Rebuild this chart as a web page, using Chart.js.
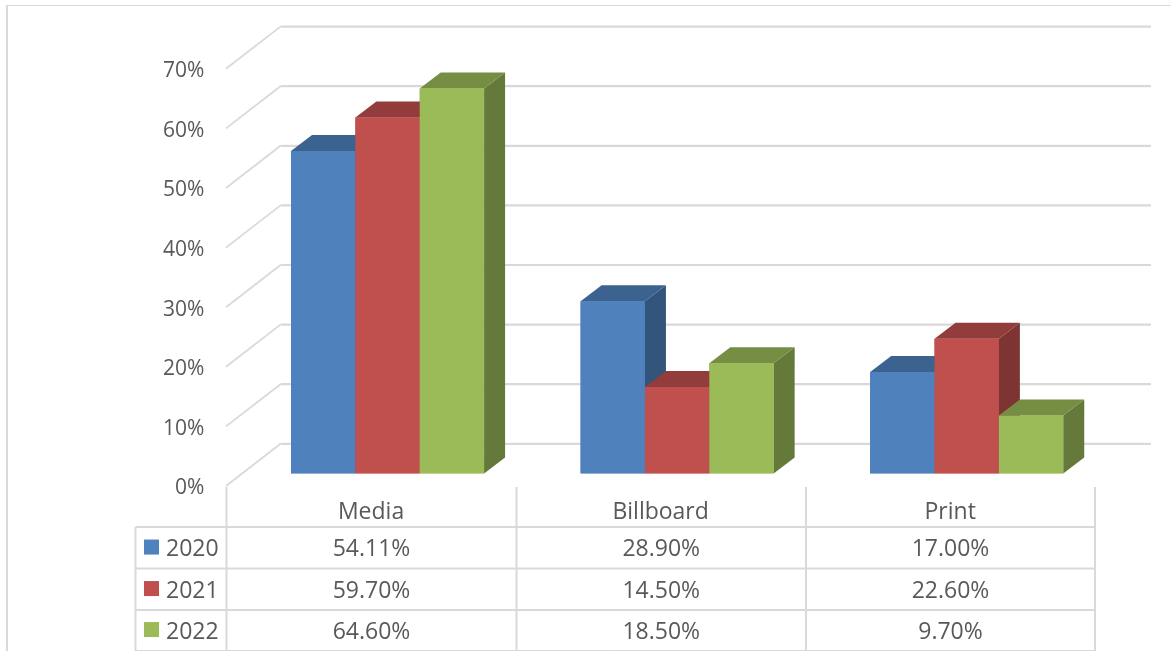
<!DOCTYPE html>
<html>
<head>
<meta charset="utf-8">
<style>
  html, body { margin: 0; padding: 0; background: #fff; overflow: hidden; }
  canvas { display: block; }
</style>
<script src="https://cdn.jsdelivr.net/npm/chart.js@4"></script>
</head>
<body>
<canvas id="chart" width="1171" height="651"></canvas>
<script>
const categories = ['Media', 'Billboard', 'Print'];
const seriesNames = ['2020', '2021', '2022'];
const values2020 = [54.11, 28.90, 17.00];
const values2021 = [59.70, 14.50, 22.60];
const values2022 = [64.60, 18.50, 9.70];
const tableValues2020 = ['54.11%', '28.90%', '17.00%'];
const tableValues2021 = ['59.70%', '14.50%', '22.60%'];
const tableValues2022 = ['64.60%', '18.50%', '9.70%'];
const frontColors = ['#4F81BD', '#C0504D', '#9BBB59'];
const topColors = ['#3C6290', '#923D3B', '#768E44'];
const sideColors = ['#33547B', '#7D3432', '#657A3A'];

const FONT = '"Open Sans", sans-serif';
const TEXT = '#595959';
const LINE = '#D9D9D9';

// Projection of the box depth and of the wall behind the columns
const BAR_DEPTH = { x: 21, y: 16 };
const WALL = { left: 226, back: 280.5, right: 1151, frontDrop: 12.6, backRise: 29.6 };
// Data table rules
const TABLE = { left: 135.5, colEdges: [226.5, 516.5, 806, 1095], rows: [527, 568.5, 610, 650.5], top: 487 };

function line(ctx, x1, y1, x2, y2, w) {
  ctx.lineWidth = w;
  ctx.beginPath();
  ctx.moveTo(x1, y1);
  ctx.lineTo(x2, y2);
  ctx.stroke();
}

function poly(ctx, pts, color) {
  ctx.fillStyle = color;
  ctx.beginPath();
  pts.forEach((p, i) => (i ? ctx.lineTo(p[0], p[1]) : ctx.moveTo(p[0], p[1])));
  ctx.closePath();
  ctx.fill();
}

const wallAndTable = {
  id: 'wallAndTable',
  // Back wall, side wall, data table and frame go underneath the columns
  beforeDatasetsDraw(chart) {
    const { ctx, scales } = chart;
    ctx.save();
    ctx.strokeStyle = LINE;
    ctx.lineCap = 'butt';

    // Frame
    line(ctx, 6, 5.5, 1171, 5.5, 1.2);
    line(ctx, 7, 5, 7, 651, 2);

    // Walls
    scales.y.ticks.forEach(t => {
      const p = scales.y.getPixelForValue(t.value);
      line(ctx, WALL.back, p - WALL.backRise, WALL.right, p - WALL.backRise, 2.2);
      line(ctx, WALL.left, p + WALL.frontDrop, WALL.back, p - WALL.backRise, 1.8);
    });

    // Table rules
    TABLE.colEdges.forEach(x => line(ctx, x, TABLE.top, x, 651, 2));
    line(ctx, TABLE.left, TABLE.rows[0], TABLE.left, 651, 2);
    TABLE.rows.forEach((y, i) => line(ctx, TABLE.left, y, TABLE.colEdges[3] + 1, y, i === 3 ? 1 : 2));

    // Table content
    ctx.textBaseline = 'middle';
    ctx.font = '23px ' + FONT;
    const rows = [tableValues2020, tableValues2021, tableValues2022];
    rows.forEach((cells, r) => {
      const y = (TABLE.rows[r] + TABLE.rows[r + 1]) / 2;
      ctx.fillStyle = frontColors[r];
      ctx.fillRect(144, y - 8.2, 15, 15);
      ctx.fillStyle = TEXT;
      ctx.textAlign = 'left';
      ctx.fillText(seriesNames[r], 166, y + 1.8);
      ctx.textAlign = 'center';
      cells.forEach((c, i) => {
        ctx.fillText(c, (TABLE.colEdges[i] + TABLE.colEdges[i + 1]) / 2, y + 1.8);
      });
    });
    ctx.restore();
  },
  // Boxes are layered from the first series to the last: side and top first, then the front face
  afterDatasetsDraw(chart) {
    const { ctx } = chart;
    ctx.save();
    seriesNames.forEach((name, i) => {
      chart.getDatasetMeta(i).data.forEach(bar => {
        const l = bar.x - bar.width / 2, r = bar.x + bar.width / 2;
        const dx = BAR_DEPTH.x, dy = BAR_DEPTH.y;
        poly(ctx, [[r, bar.y], [r + dx, bar.y - dy], [r + dx, bar.base - dy], [r, bar.base]], sideColors[i]);
        poly(ctx, [[l, bar.y], [l + dx, bar.y - dy], [r + dx, bar.y - dy], [r, bar.y]], topColors[i]);
        bar.draw(ctx);
      });
    });
    ctx.restore();
  }
};

new Chart(document.getElementById('chart'), {
  type: 'bar',
  data: {
    labels: categories,
    datasets: [
      { label: seriesNames[0], data: values2020, backgroundColor: frontColors[0] },
      { label: seriesNames[1], data: values2021, backgroundColor: frontColors[1] },
      { label: seriesNames[2], data: values2022, backgroundColor: frontColors[2] }
    ]
  },
  plugins: [wallAndTable],
  options: {
    responsive: false,
    animation: false,
    layout: { padding: { top: 56.2, right: 59.5, left: 0, bottom: 0 } },
    plugins: { legend: { display: false }, title: { display: false }, tooltip: { enabled: false } },
    datasets: { bar: { categoryPercentage: 0.6667, barPercentage: 1, borderWidth: 0 } },
    scales: {
      x: {
        grid: { display: false, drawTicks: false },
        border: { display: false },
        ticks: {
          color: TEXT,
          font: { family: FONT, size: 23 },
          padding: 25.5,
          labelOffset: -16.5,
          maxRotation: 0
        },
        afterFit(s) { s.height = 651 - 473.4; }
      },
      y: {
        min: 0,
        max: 70,
        grid: { display: false, drawTicks: false },
        border: { display: false },
        ticks: {
          stepSize: 10,
          color: TEXT,
          font: { family: FONT, size: 21 },
          padding: 38.5,
          labelOffset: 15,
          callback: v => v + '%'
        },
        afterFit(s) { s.width = 242.75; }
      }
    }
  }
});
</script>
</body>
</html>
